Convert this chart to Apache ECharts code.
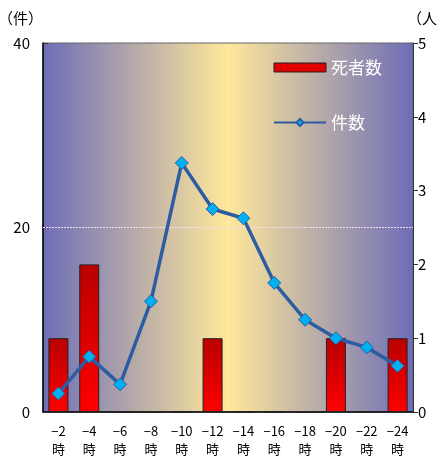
<!DOCTYPE html>
<html><head><meta charset="utf-8">
<script src="https://cdn.jsdelivr.net/npm/echarts@6/dist/echarts.min.js"></script>
<style>html,body{margin:0;padding:0;background:#fff}#c{width:438px;height:459px}</style>
</head><body><div id="c"></div>
<script>
var categories = ['−2\n時','−4\n時','−6\n時','−8\n時','−10\n時','−12\n時','−14\n時','−16\n時','−18\n時','−20\n時','−22\n時','−24\n時'];
var deaths = [1, 2, 0, 0, 0, 1, 0, 0, 0, 1, 0, 1];
var cases = [2, 6, 3, 12, 27, 22, 21, 14, 10, 8, 7, 5];
var leftTicks = [0, 20, 40];
var rightTicks = [0, 1, 2, 3, 4, 5];

var FONT = '"Noto Sans CJK JP", sans-serif';
var chart = echarts.init(document.getElementById('c'));
chart.setOption({
  animation: false,
  textStyle: {fontFamily: FONT},
  grid: {
    left: 43, right: 25, top: 43, bottom: 47, show: true,
    containLabel: false, outerBoundsMode: 'none',
    borderColor: '#666', borderWidth: 1,
    backgroundColor: new echarts.graphic.LinearGradient(0, 0, 1, 0, [
      {offset: 0, color: '#6d6db7'},
      {offset: 0.5, color: '#ffe89b'},
      {offset: 1, color: '#6d6db7'}
    ])
  },
  legend: {
    orient: 'vertical', left: 268, top: 54, itemGap: 38,
    itemWidth: 52, itemHeight: 9, padding: 5,
    textStyle: {color: '#fff', fontSize: 17, fontFamily: FONT},
    data: [
      {name: '死者数', icon: 'rect', itemStyle: {color: '#e00000', borderColor: '#222', borderWidth: 1}},
      {name: '件数'}
    ]
  },
  xAxis: {
    type: 'category', data: categories,
    axisLine: {lineStyle: {color: '#000', width: 1.5}},
    axisTick: {inside: true, length: 4, lineStyle: {color: '#333'}},
    axisLabel: {color: '#000', fontSize: 13, lineHeight: 18, margin: 10, interval: 0, fontFamily: FONT}
  },
  yAxis: [
    {
      type: 'value', min: 0, max: 40, interval: 20,
      name: '（件）', nameLocation: 'end', nameGap: 17,
      nameTextStyle: {color: '#000', fontSize: 15, align: 'right', padding: [0, 0, 0, 0], fontFamily: FONT},
      axisLine: {show: true, lineStyle: {color: '#000', width: 1.5}},
      axisTick: {show: true, inside: true, length: 5, lineStyle: {color: '#333'}},
      axisLabel: {color: '#000', fontSize: 15, margin: 13, fontFamily: FONT},
      splitLine: {show: false}
    },
    {
      type: 'value', min: 0, max: 5, interval: 1,
      name: '（人）', nameLocation: 'end', nameGap: 17,
      nameTextStyle: {color: '#000', fontSize: 15, align: 'left', padding: [0, 0, 0, -6], fontFamily: FONT},
      axisLine: {show: true, lineStyle: {color: '#333', width: 1}},
      axisTick: {show: true, length: 5, lineStyle: {color: '#333'}},
      axisLabel: {color: '#000', fontSize: 15, margin: 5, fontFamily: FONT},
      splitLine: {show: false}
    }
  ],
  series: [
    {
      name: '死者数', type: 'bar', yAxisIndex: 1, data: deaths, barWidth: 20, z: 2,
      itemStyle: {
        borderColor: '#222', borderWidth: 1,
        color: new echarts.graphic.LinearGradient(0, 0, 0, 1, [
          {offset: 0, color: '#b80000'},
          {offset: 1, color: '#ff0000'}
        ])
      }
    },
    {
      name: '件数', type: 'line', yAxisIndex: 0, data: cases, z: 3,
      symbol: 'diamond', symbolSize: 13,
      lineStyle: {color: '#2e5ca3', width: 3.5},
      itemStyle: {color: '#00b0f0', borderColor: '#2e5ca3', borderWidth: 1},
      markLine: {
        silent: true, symbol: 'none', z: 1, label: {show: false},
        lineStyle: {color: '#f4dcf0', type: [2, 1], width: 1},
        data: [{yAxis: 20}]
      }
    }
  ]
});
</script></body></html>
